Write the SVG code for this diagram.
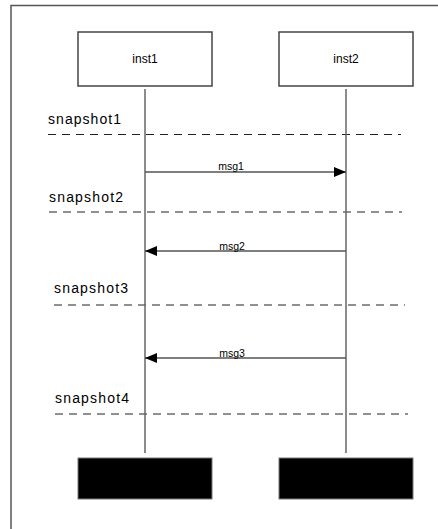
<svg xmlns="http://www.w3.org/2000/svg" width="438" height="529" viewBox="0 0 438 529">
  <style>
    .frame { fill: none; stroke: #555; stroke-width: 1.5; }
    .head { fill: #fff; stroke: #444; stroke-width: 1.5; }
    .end { fill: #000; stroke: #777; stroke-width: 1; }
    .life { stroke: #666; stroke-width: 1.5; fill: none; }
    .msg { stroke: #555; stroke-width: 1.5; fill: none; }
    .snap { stroke: #222; stroke-width: 1.2; stroke-dasharray: 8 6; fill: none; }
    .lbl { font-family: "Liberation Sans", Arial, sans-serif; font-size: 12px; fill: #000; }
    .mlbl { font-family: "Liberation Sans", Arial, sans-serif; font-size: 10.5px; fill: #000; text-anchor: middle; }
    .snaplbl { font-family: "Liberation Sans", Arial, sans-serif; font-size: 14px; fill: #000; }
  </style>
  <defs>
    <marker id="arrow" viewBox="0 0 12 10" refX="12" refY="5" markerWidth="12" markerHeight="10" markerUnits="userSpaceOnUse" orient="auto">
      <path d="M0,0 L12,5 L0,10 Z" fill="#000"/>
    </marker>
  </defs>

  <!-- outer frame (extends past the canvas on the right and bottom) -->
  <rect class="frame" x="11" y="5.5" width="440" height="540"/>

  <!-- instance heads -->
  <g id="inst1">
    <rect class="head" x="78" y="32" width="134" height="54"/>
    <text class="lbl" x="145" y="63" text-anchor="middle">inst1</text>
  </g>
  <g id="inst2">
    <rect class="head" x="279" y="32" width="134" height="54"/>
    <text class="lbl" x="346" y="63" text-anchor="middle">inst2</text>
  </g>

  <!-- instance ends -->
  <g id="inst1-end">
    <rect class="end" x="78" y="458" width="134" height="41"/>
  </g>
  <g id="inst2-end">
    <rect class="end" x="279" y="458" width="134" height="41"/>
  </g>

  <!-- snapshot separators -->
  <g id="snapshot1">
    <text class="snaplbl" x="48" y="124" textLength="73" lengthAdjust="spacing">snapshot1</text>
    <line class="snap" x1="48" y1="134.5" x2="401" y2="134.5"/>
  </g>
  <g id="snapshot2">
    <text class="snaplbl" x="49" y="202" textLength="74" lengthAdjust="spacing">snapshot2</text>
    <line class="snap" x1="49" y1="212" x2="402" y2="212"/>
  </g>
  <g id="snapshot3">
    <text class="snaplbl" x="54" y="293" textLength="74" lengthAdjust="spacing">snapshot3</text>
    <line class="snap" x1="54" y1="305" x2="405" y2="305"/>
  </g>
  <g id="snapshot4">
    <text class="snaplbl" x="55" y="403" textLength="74" lengthAdjust="spacing">snapshot4</text>
    <line class="snap" x1="55" y1="414" x2="408" y2="414"/>
  </g>

  <!-- lifelines and messages -->
  <g id="connectors">
    <line class="life" x1="145" y1="89" x2="145" y2="453"/>
    <line class="life" x1="346" y1="89" x2="346" y2="453"/>

    <line class="msg" x1="145" y1="172" x2="346" y2="172" marker-end="url(#arrow)"/>
    <text class="mlbl" x="231" y="170">msg1</text>

    <line class="msg" x1="346" y1="251" x2="145" y2="251" marker-end="url(#arrow)"/>
    <text class="mlbl" x="232" y="250">msg2</text>

    <line class="msg" x1="346" y1="358" x2="145" y2="358" marker-end="url(#arrow)"/>
    <text class="mlbl" x="232" y="357">msg3</text>
  </g>
</svg>
